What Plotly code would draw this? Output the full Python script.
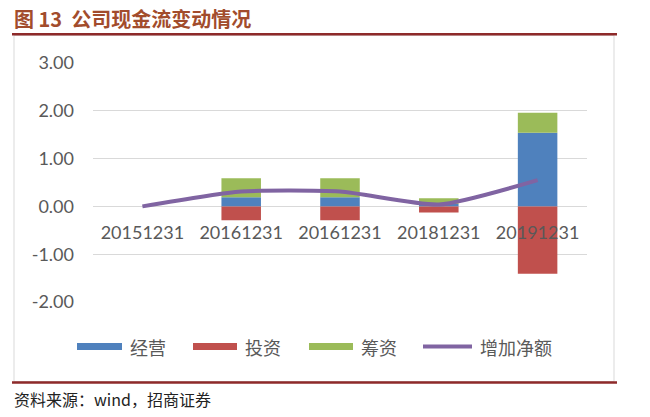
import plotly.graph_objects as go

categories = ["20151231", "20161231", "20161231 ", "20181231", "20191231"]
cat_labels = ["20151231", "20161231", "20161231", "20181231", "20191231"]
operating = [0.0, 0.19, 0.19, 0.05, 1.54]
investing = [0.0, -0.29, -0.29, -0.13, -1.41]
financing = [0.0, 0.40, 0.40, 0.12, 0.42]
net_change = [0.0, 0.31, 0.31, 0.04, 0.55]
y_ticks = [-2, -1, 0, 1, 2, 3]
y_tick_labels = ["-2.00", "-1.00", "0.00", "1.00", "2.00", "3.00"]

names = ["经营", "投资", "筹资", "增加净额"]
colors = ["#4F81BD", "#C0504D", "#9BBB59", "#8064A2"]

W, H = 650, 417
L, R, T, B = 93, 587, 62.7, 302.3


def px(x):
    return (x - L) / (R - L)


def py(y):
    return (B - y) / (B - T)


fig = go.Figure()
fig.add_trace(go.Bar(x=categories, y=operating, name=names[0], marker_color=colors[0],
                     marker_line_width=0, width=0.4, showlegend=False))
fig.add_trace(go.Bar(x=categories, y=investing, name=names[1], marker_color=colors[1],
                     marker_line_width=0, width=0.4, showlegend=False))
fig.add_trace(go.Bar(x=categories, y=financing, name=names[2], marker_color=colors[2],
                     marker_line_width=0, width=0.4, showlegend=False))
fig.add_trace(go.Scatter(x=categories, y=net_change, name=names[3], mode="lines",
                         line=dict(color=colors[3], width=4, shape="spline", smoothing=0.6),
                         showlegend=False))

shapes = []
annotations = []

# outer chart border
shapes.append(dict(type="rect", xref="paper", yref="paper", x0=px(14), x1=px(614), y0=py(35), y1=py(382),
                   line=dict(color="#D9D9D9", width=1), layer="below"))
# top & bottom rules
for yy in (34, 383):
    shapes.append(dict(type="line", xref="paper", yref="paper", x0=px(12), x1=px(617), y0=py(yy), y1=py(yy),
                       line=dict(color="#8E2A2A", width=2.5)))

# title
annotations.append(dict(text="<b>图 13  公司现金流变动情况</b>", xref="paper", yref="paper",
                        x=px(12), y=py(18), xanchor="left", yanchor="middle", showarrow=False,
                        font=dict(family="Noto Sans CJK SC", size=20, color="#A24C2C")))
# source
annotations.append(dict(text="资料来源：wind，招商证券", xref="paper", yref="paper",
                        x=px(12), y=py(400), xanchor="left", yanchor="middle", showarrow=False,
                        font=dict(family="Noto Sans CJK SC", size=16, color="#222222")))

# manual legend
leg_items = [(77, 122, 128), (193, 237, 243), (309, 353, 359), (423, 472, 478)]
ly = 347
for i, (x0, x1, tx) in enumerate(leg_items):
    if i < 3:
        shapes.append(dict(type="rect", xref="paper", yref="paper", x0=px(x0), x1=px(x1),
                           y0=py(ly + 3.5), y1=py(ly - 3.5), fillcolor=colors[i], line=dict(width=0)))
    else:
        shapes.append(dict(type="line", xref="paper", yref="paper", x0=px(x0), x1=px(x1),
                           y0=py(ly), y1=py(ly), line=dict(color=colors[i], width=4)))
    annotations.append(dict(text=names[i], xref="paper", yref="paper", x=px(tx), y=py(ly),
                            xanchor="left", yanchor="middle", showarrow=False,
                            font=dict(family="Noto Sans CJK SC", size=18, color="#595959")))

fig.update_layout(
    width=W, height=H,
    margin=dict(l=L, r=W - R, t=T, b=H - B, pad=0),
    paper_bgcolor="white", plot_bgcolor="white",
    barmode="relative",
    shapes=shapes, annotations=annotations,
    font=dict(family="Lato, Noto Sans CJK SC", color="#595959"),
    xaxis=dict(anchor="free", position=0.4, showline=False, showgrid=False, zeroline=False,
               ticks="", tickvals=categories, ticktext=cat_labels,
               tickfont=dict(family="Lato", size=18, color="#595959"),
               ticklabelstandoff=14, range=[-0.5, 4.5]),
    yaxis=dict(range=[-2, 3], tickvals=y_ticks, ticktext=y_tick_labels, showgrid=True,
               gridcolor="#D9D9D9", gridwidth=1, zeroline=True, zerolinecolor="#D9D9D9",
               zerolinewidth=1, showline=False, ticks="",
               tickfont=dict(family="Lato", size=18, color="#595959"),
               ticklabelstandoff=18),
)

fig.write_html("out.html")
